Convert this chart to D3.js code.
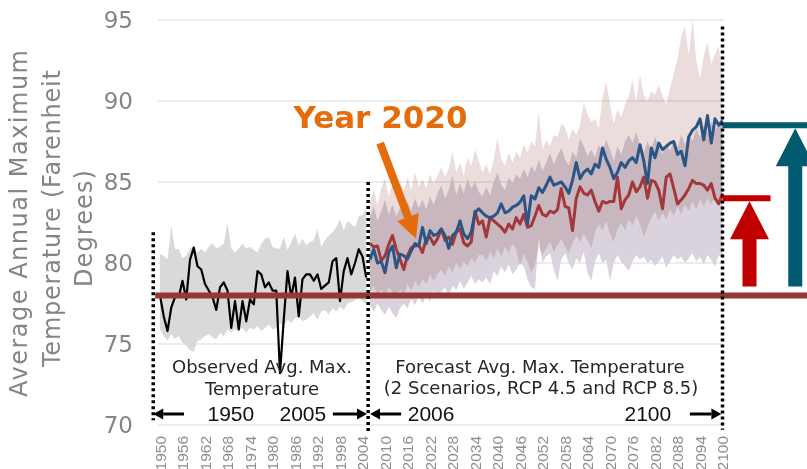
<!DOCTYPE html>
<html><head><meta charset="utf-8">
<script src="https://cdn.jsdelivr.net/npm/d3@7"></script>
<style>html,body{margin:0;padding:0;background:#fff;} svg{display:block}</style>
</head><body><svg id="c" width="807" height="469"></svg>
<script>
// ---------- DATA ----------
const obsStartYear = 1950;   // observed 1950-2005
const fcStartYear = 2006;    // forecast 2006-2100
const xTickLabels = ["1950","1956","1962","1968","1974","1980","1986","1992","1998","2004","2010","2016","2022","2028","2034","2040","2046","2052","2058","2064","2070","2076","2082","2088","2094","2100"];
const yTickLabels = [70,75,80,85,90,95];

const observedAvg = [78.0,76.7,75.8,77.25,77.9,77.9,78.9,77.75,80.2,80.95,
 79.8,79.6,78.7,78.3,77.9,77.1,78.5,78.8,78.3,76.0,
 77.65,75.9,77.65,76.4,77.75,77.45,79.5,79.3,78.5,78.8,
 78.3,78.3,73.2,76.5,79.5,77.9,79.1,76.7,79.0,79.3,
 79.3,78.9,79.3,78.4,78.6,78.8,80.1,80.3,77.65,79.5,
 80.3,79.3,80.0,80.85,80.4,79.1];
const observedMax = [80.55,80.45,80.2,82.3,80.86,80.86,80.3,80.45,80.9,81.1,
 80.65,80.9,80.65,81.0,81.2,80.9,81.0,81.2,82.5,80.9,
 80.65,80.9,81.2,80.9,81.0,80.8,80.65,81.2,81.5,81.6,
 81.0,80.9,80.9,81.6,80.8,81.3,81.8,81.1,81.5,81.1,
 81.3,81.4,82.1,81.0,81.4,81.7,81.9,82.2,82.7,82.0,
 82.6,82.4,82.2,82.9,83.0,83.3];
const observedMin = [75.9,75.5,75.2,75.6,75.3,75.5,75.1,74.9,74.6,74.5,
 75.2,75.3,75.5,75.6,75.4,75.3,75.7,75.5,75.9,75.7,
 75.9,75.8,76.0,75.7,76.0,75.9,76.1,75.8,76.0,76.2,
 75.9,76.0,76.3,76.1,76.5,76.3,76.6,76.7,76.4,76.5,
 76.7,76.9,76.5,77.0,77.1,76.8,77.2,77.0,77.3,77.1,
 77.5,77.6,77.7,77.9,77.6,77.5];

const rcp85Avg = [80.2,80.85,80.0,80.1,79.4,80.65,81.05,79.7,80.55,80.45,
 80.25,80.75,81.2,81.05,82.2,81.2,82.0,81.7,81.8,82.1,
 81.7,80.9,81.7,81.9,82.6,81.8,81.5,81.9,83.1,83.35,
 83.1,82.9,82.8,82.9,83.1,83.65,83.1,83.2,83.45,83.55,
 83.75,84.15,82.4,84.15,83.95,84.65,84.35,84.8,85.3,84.8,
 84.9,85.0,84.7,84.3,85.1,86.2,85.2,85.6,85.8,85.5,
 86.1,85.9,87.1,86.4,85.9,85.2,85.6,86.2,85.9,86.3,
 86.5,86.2,87.3,86.3,84.9,87.1,86.5,87.4,87.0,87.2,
 87.4,87.5,86.7,86.9,86.0,87.8,88.2,88.4,88.9,87.6,
 89.1,87.4,88.9,88.5,88.8];
const rcp45Avg = [81.2,81.0,81.05,80.15,80.45,81.15,81.7,80.85,80.25,79.6,
 80.45,80.95,81.05,81.1,80.65,81.5,81.6,81.15,81.5,82.1,
 81.4,81.6,81.15,81.9,82.1,81.25,81.05,81.3,83.2,82.4,
 82.6,81.6,82.8,82.6,82.4,82.2,81.9,82.4,82.1,82.8,
 82.4,83.0,82.2,82.3,82.9,83.55,83.0,82.9,83.2,83.1,
 83.3,84.6,83.5,83.4,82.0,84.0,84.7,84.3,84.2,84.5,
 83.8,83.2,83.8,83.7,83.8,83.8,85.3,83.35,83.9,84.2,
 85.0,84.4,84.7,85.3,84.0,85.1,85.0,84.5,83.35,85.3,
 85.5,84.6,83.65,83.9,84.2,84.6,85.1,84.9,84.9,84.8,
 84.5,84.9,84.0,83.65,84.3];
const rcp85Max = [83.8,84.5,83.6,84.6,85.2,84.1,84.9,84.3,85.0,84.4,
 85.3,84.5,85.6,84.7,85.2,84.6,85.5,84.9,85.4,85.9,
 85.3,85.8,86.9,85.6,86.2,85.4,86.5,86.0,87.0,86.3,
 85.6,86.1,85.5,86.4,87.7,86.4,86.0,86.8,86.2,86.9,
 86.5,87.3,86.8,87.5,87.2,89.3,87.0,87.6,87.2,87.9,
 87.8,88.6,88.4,87.6,88.3,87.9,88.5,89.9,89.2,88.7,
 88.9,88.3,90.2,91.2,89.8,88.6,89.5,89.0,89.8,90.3,
 91.3,90.0,91.6,90.4,90.0,90.6,90.4,91.0,90.3,89.8,
 90.8,91.7,92.6,94.0,94.6,92.8,95.0,92.5,91.4,92.8,
 93.6,92.3,92.9,93.4,91.6];
const rcp85Min = [78.2,78.6,78.0,78.4,77.9,78.5,78.2,77.8,78.4,78.0,
 78.7,78.3,78.9,78.5,79.0,78.7,79.3,78.9,79.3,79.6,
 79.2,79.8,79.4,80.0,79.6,80.1,79.8,80.3,80.0,80.5,
 80.5,80.1,80.7,80.3,80.9,80.4,81.0,80.6,81.2,80.8,
 79.8,80.6,80.1,79.4,79.9,81.0,80.5,80.9,81.3,80.7,
 81.1,81.5,81.0,80.6,81.2,81.7,81.3,81.8,81.4,80.9,
 81.9,82.4,82.0,82.6,81.8,81.3,82.1,82.5,82.0,82.7,
 82.3,82.9,82.4,81.6,82.2,82.8,83.2,82.6,83.1,82.7,
 83.3,82.9,83.5,83.0,83.6,83.2,83.8,83.3,83.9,83.5,
 84.0,83.6,84.1,83.7,83.9];
const rcp45Max = [82.8,83.5,82.6,83.2,83.9,83.0,83.6,82.9,83.4,83.1,
 83.8,83.2,84.0,83.4,83.9,83.3,84.1,83.6,84.3,84.8,
 84.0,84.5,85.4,84.2,84.9,84.3,85.2,84.6,85.0,84.4,
 84.1,84.7,84.2,85.0,85.6,84.8,84.5,85.3,84.9,85.5,
 85.2,85.8,85.3,86.0,85.6,86.4,85.7,86.2,86.8,86.1,
 86.6,87.1,86.4,86.0,86.9,86.5,87.7,87.2,86.6,87.0,
 86.5,87.3,86.9,87.6,87.0,86.3,87.2,86.7,87.5,87.9,
 87.4,88.1,87.3,86.8,87.5,87.0,87.8,87.2,86.7,87.4,
 86.9,87.6,87.1,87.9,87.3,88.0,87.5,88.3,87.8,88.5,
 88.0,88.7,88.2,88.6,88.4];
const rcp45Min = [77.4,77.0,77.5,77.1,76.8,77.3,76.9,76.6,77.2,77.5,
 77.2,77.8,77.4,77.9,77.5,78.0,77.6,78.3,77.8,78.2,
 78.5,77.9,78.6,78.3,78.9,78.4,78.8,79.2,78.7,79.0,
 78.8,79.1,78.7,79.5,79.2,79.8,79.4,79.9,79.3,79.6,
 80.0,79.8,79.0,78.5,78.4,81.6,80.0,80.4,80.6,79.6,
 78.9,80.2,80.6,80.0,79.6,80.3,80.0,80.7,79.4,78.9,
 80.1,80.6,80.0,80.2,78.9,80.0,80.5,80.1,79.8,79.5,
 80.1,80.5,80.2,80.4,80.0,80.2,79.8,80.1,80.4,79.7,
 80.1,80.5,80.2,80.4,80.0,80.3,80.6,80.1,80.4,79.9,
 80.5,80.2,79.8,80.5,80.3];

const baselineTemp = 78.0;   // historical average line
const rcp45End = 84.0;       // end level RCP 4.5
const rcp85End = 88.5;       // end level RCP 8.5

// ---------- CHART ----------
const svg = d3.select("#c");
const x = d3.scaleLinear().domain([1950, 2100]).range([160, 722.5]);
const y = d3.scaleLinear().domain([70, 95]).range([425, 20]);
const FONT = "'DejaVu Sans', sans-serif";
const NUMFONT = "'Liberation Sans', Arial, sans-serif";

const obs = observedAvg.map((v,i)=>({year: obsStartYear+i, v, hi: observedMax[i], lo: observedMin[i]}));
const fc = rcp85Avg.map((v,i)=>({year: fcStartYear+i, b: v, r: rcp45Avg[i],
  h85: rcp85Max[i], l85: rcp85Min[i], h45: rcp45Max[i], l45: rcp45Min[i]}));

const xMin = x(1950) - (x(1951)-x(1950))/2, xMax = x(2100) + (x(1951)-x(1950))/2;

// gridlines
svg.append("g").selectAll("line").data(yTickLabels).join("line")
  .attr("x1", xMin).attr("x2", xMax)
  .attr("y1", d=>y(d)).attr("y2", d=>y(d))
  .attr("stroke", "#d9d9d9").attr("stroke-width", 1);

// y tick labels
svg.append("g").selectAll("text").data(yTickLabels).join("text")
  .attr("x", 133).attr("y", d=>y(d)).attr("dy","0.36em")
  .attr("text-anchor","end").attr("font-family",FONT).attr("font-size",23)
  .attr("fill","#858585").text(d=>d);

// x tick labels (rotated)
svg.append("g").selectAll("text").data(xTickLabels).join("text")
  .attr("transform", d=>`translate(${x(+d)},436) rotate(-90)`)
  .attr("dy","0.36em").attr("text-anchor","end")
  .attr("font-family",NUMFONT).attr("font-size",15.5).attr("fill","#8f8f8f").text(d=>d);

// y axis title
const yTitle = [
  {t:"Average Annual Maximum", bx:27, cy:223.5, len:347},
  {t:"Temperature (Farenheit", bx:59.5, cy:218.5, len:297},
  {t:"Degrees)", bx:92, cy:228.5, len:117}
];
svg.append("g").selectAll("text").data(yTitle).join("text")
  .attr("transform", d=>`translate(${d.bx},${d.cy}) rotate(-90)`)
  .attr("text-anchor","middle").attr("font-family",FONT).attr("font-size",24)
  .attr("fill","#858585").attr("textLength", d=>d.len).attr("lengthAdjust","spacing")
  .text(d=>d.t);

// observed band
svg.append("path").datum(obs)
  .attr("d", d3.area().x(d=>x(d.year)).y0(d=>y(d.lo)).y1(d=>y(d.hi)))
  .attr("fill","#d9d9d9");

// forecast bands
svg.append("path").datum(fc)
  .attr("d", d3.area().x(d=>x(d.year)).y0(d=>y(d.l45)).y1(d=>y(d.h45)))
  .attr("fill","#dad3de");
svg.append("path").datum(fc)
  .attr("d", d3.area().x(d=>x(d.year)).y0(d=>y(d.l85)).y1(d=>y(d.h85)))
  .attr("fill","#ecdddd").style("mix-blend-mode","multiply");

// lines
svg.append("path").datum(obs)
  .attr("d", d3.line().x(d=>x(d.year)).y(d=>y(d.v)))
  .attr("fill","none").attr("stroke","#000").attr("stroke-width",2.2).attr("stroke-linejoin","round");
svg.append("path").datum(fc)
  .attr("d", d3.line().x(d=>x(d.year)).y(d=>y(d.r)))
  .attr("fill","none").attr("stroke","#a3383a").attr("stroke-width",3).attr("stroke-linejoin","round");
svg.append("path").datum(fc)
  .attr("d", d3.line().x(d=>x(d.year)).y(d=>y(d.b)))
  .attr("fill","none").attr("stroke","#2b5585").attr("stroke-width",3).attr("stroke-linejoin","round");

// baseline
svg.append("line").attr("x1", x(1948.7)).attr("x2", 807)
  .attr("y1", y(baselineTemp)).attr("y2", y(baselineTemp))
  .attr("stroke","#953735").attr("stroke-width",6);

// dotted separators
const seps = [
  {yr:1948.2, top:81.9, bot:70.3},
  {yr:2005.5, top:85.0, bot:69.6},
  {yr:2100, top:94.6, bot:69.7}
];
svg.append("g").selectAll("line").data(seps).join("line")
  .attr("x1", d=>x(d.yr)).attr("x2", d=>x(d.yr))
  .attr("y1", d=>y(d.top)).attr("y2", d=>y(d.bot))
  .attr("stroke","#000").attr("stroke-width",3.5).attr("stroke-dasharray","3,3");

// end level markers (right side)
const ends = [
  {v: rcp45End, color:"#c00000", x2: 2112.8, ax: 2107.2},
  {v: rcp85End, color:"#005a70", x2: 2125, ax: 2119.4}
];
const g2 = svg.append("g");
ends.forEach(e=>{
  g2.append("line").attr("x1", x(2100)).attr("x2", x(e.x2))
    .attr("y1", y(e.v)).attr("y2", y(e.v)).attr("stroke", e.color).attr("stroke-width",6);
  const cx = x(e.ax), tip = y(e.v)+3, base = y(baselineTemp)-9, hl = 38, hw = 19.5, sw = 7;
  g2.append("path").attr("fill", e.color)
    .attr("d", `M${cx-sw},${base} L${cx-sw},${tip+hl} L${cx-hw},${tip+hl} L${cx},${tip} L${cx+hw},${tip+hl} L${cx+sw},${tip+hl} L${cx+sw},${base} Z`);
});

// period arrows row
const rowY = 414;
const rowArrows = [
  {from:1956.4, to:1948.2}, {from:1996.1, to:2005.2},
  {from:2014.3, to:2006.0}, {from:2091.3, to:2099.7}
];
rowArrows.forEach(a=>{
  const x1 = x(a.from), x2 = x(a.to), dir = Math.sign(x2-x1), hl = 10, hw = 5.5;
  svg.append("line").attr("x1",x1).attr("x2",x2-dir*hl).attr("y1",rowY).attr("y2",rowY)
    .attr("stroke","#000").attr("stroke-width",3);
  svg.append("path").attr("fill","#000")
    .attr("d",`M${x2},${rowY} L${x2-dir*hl},${rowY-hw} L${x2-dir*hl},${rowY+hw} Z`);
});
const rowLabels = [{t:"1950", yr:1968.9},{t:"2005", yr:1988.1},{t:"2006", yr:2022.3},{t:"2100", yr:2080.1}];
svg.append("g").selectAll("text").data(rowLabels).join("text")
  .attr("x", d=>x(d.yr)).attr("y", 420.5).attr("text-anchor","middle")
  .attr("font-family",NUMFONT).attr("font-size",21).attr("fill","#111").text(d=>d.t);

// period texts
const periodText = [
  {t:"Observed Avg. Max.", cx:262, by:373},
  {t:"Temperature", cx:262, by:395},
  {t:"Forecast Avg. Max. Temperature", cx:540, by:373},
  {t:"(2 Scenarios, RCP 4.5 and RCP 8.5)", cx:541, by:394}
];
svg.append("g").selectAll("text").data(periodText).join("text")
  .attr("x", d=>d.cx).attr("y", d=>d.by).attr("text-anchor","middle")
  .attr("font-family",FONT).attr("font-size",18).attr("fill","#262626").text(d=>d.t);

// Year 2020 annotation
svg.append("text").attr("x",380.5).attr("y",128).attr("text-anchor","middle")
  .attr("font-family",FONT).attr("font-weight","bold").attr("font-size",31)
  .attr("fill","#e46c0a").text("Year 2020");
(function(){
  const S=[x(2008.7), y(87.4)], T=[x(2018.3), y(81.5)];
  const dx=T[0]-S[0], dy=T[1]-S[1], L=Math.hypot(dx,dy), u=[dx/L,dy/L], n=[-u[1],u[0]];
  const hl=23, hw=11.5, sw=4;
  const B=[T[0]-u[0]*hl, T[1]-u[1]*hl];
  const p=(P,k)=>[P[0]+n[0]*k, P[1]+n[1]*k];
  const pts=[p(S,sw),p(B,sw),p(B,hw),T,p(B,-hw),p(B,-sw),p(S,-sw)];
  svg.append("path").attr("fill","#e46c0a").attr("d","M"+pts.map(q=>q.join(",")).join("L")+"Z");
})();
</script></body></html>
